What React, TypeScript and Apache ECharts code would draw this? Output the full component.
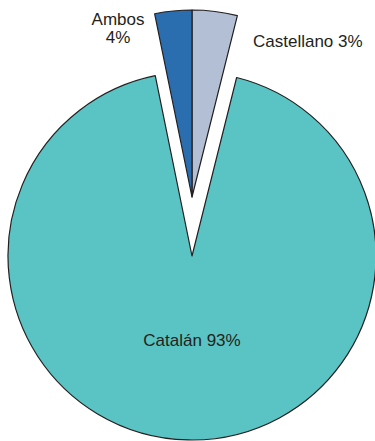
import React, { useEffect, useRef } from "react";
import * as echarts from "echarts";

// Slice order clockwise from 12 o'clock
const categories = ["Castellano", "Catalán", "Ambos"];
// Slice sizes as drawn in the reference (angles)
const shares = [3.9, 92.9, 3.2];
// Percentages printed on the labels
const labelPercents = [3, 93, 4];
// Which slices are pulled out of the pie
const exploded = [true, false, true];

const colors = ["#b3bfd4", "#5ac4c4", "#2a6eb0"];

export default function App() {
  const ref = useRef<HTMLDivElement>(null);

  useEffect(() => {
    if (!ref.current) return;
    const chart = echarts.init(ref.current, undefined, { renderer: "svg" });
    const font = "'Liberation Sans', Arial, Helvetica, sans-serif";

    const makeData = (showExploded: boolean) =>
      categories.map((name, i) => {
        const visible = exploded[i] === showExploded;
        return {
          name,
          value: shares[i],
          itemStyle: visible
            ? { color: colors[i], borderColor: "#231f20", borderWidth: 1.2 }
            : { color: "transparent", borderColor: "transparent", borderWidth: 0 },
          label: { show: visible },
        };
      });

    const labelText = (p: any) => {
      const i = p.dataIndex;
      if (categories[i] === "Ambos") return `${categories[i]}\n${labelPercents[i]}%`;
      return `${categories[i]} ${labelPercents[i]}%`;
    };

    const labelPos: Record<string, { x: number; y: number; align: string }> = {
      Castellano: { x: 253, y: 41, align: "left" },
      Catalán: { x: 192, y: 340, align: "center" },
      Ambos: { x: 118, y: 28, align: "center" },
    };

    const common = {
      type: "pie",
      startAngle: 90,
      clockwise: true,
      silent: true,
      avoidLabelOverlap: false,
      labelLine: { show: false },
      label: {
        position: "inside",
        formatter: labelText,
        color: "#231f20",
        fontSize: 17,
        lineHeight: 18,
        fontFamily: font,
      },
      labelLayout: (p: any) => {
        const pos = labelPos[categories[p.dataIndex]];
        return { x: pos.x, y: pos.y, align: pos.align, verticalAlign: "middle" };
      },
      emphasis: { disabled: true },
    };

    chart.setOption({
      animation: false,
      backgroundColor: "#ffffff",
      series: [
        { ...common, center: [192, 256], radius: 184, data: makeData(false) },
        { ...common, center: [192, 197], radius: 187, data: makeData(true) },
      ],
    });

    return () => chart.dispose();
  }, []);

  return (
    <div
      ref={ref}
      style={{ position: "fixed", left: 0, top: 0, width: 375, height: 441 }}
    />
  );
}
